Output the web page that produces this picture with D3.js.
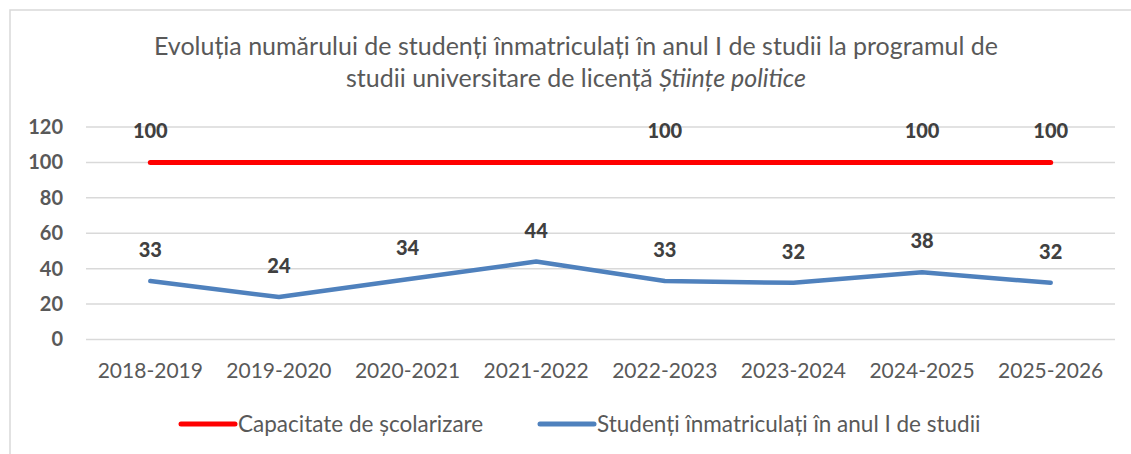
<!DOCTYPE html>
<html>
<head>
<meta charset="utf-8">
<script src="https://cdn.jsdelivr.net/npm/d3@7"></script>
<style>
  body { margin: 0; background: #fff; }
  svg text { font-family: Lato, "Open Sans", sans-serif; }
</style>
</head>
<body>
<svg id="chart" width="1131" height="454"></svg>
<script>
// date
const years = ["2018-2019", "2019-2020", "2020-2021", "2021-2022", "2022-2023", "2023-2024", "2024-2025", "2025-2026"];
const capacitate = [100, 100, 100, 100, 100, 100, 100, 100];
const capacitateEtichete = [true, false, false, false, true, false, true, true]; // doar unele etichete apar
const studenti = [33, 24, 34, 44, 33, 32, 38, 32];
const yTicks = [0, 20, 40, 60, 80, 100, 120];

const svg = d3.select("#chart");

// cadrul graficului
svg.append("rect")
  .attr("x", 10).attr("y", 10)
  .attr("width", 1200).attr("height", 500)
  .attr("fill", "none")
  .attr("stroke", "#d9d9d9")
  .attr("stroke-width", 1.5);

// titlu
const title = svg.append("text")
  .attr("text-anchor", "middle")
  .attr("fill", "#595959")
  .style("font-size", "25px");
title.append("tspan").attr("x", 576).attr("y", 55)
  .text("Evoluția numărului de studenți înmatriculați în anul I de studii la programul de");
const t2 = title.append("tspan").attr("x", 576).attr("y", 87);
t2.append("tspan").text("studii universitare de licență ");
t2.append("tspan").style("font-style", "italic").text("Științe politice");

const x = d3.scaleBand().domain(years).range([86, 1115]);
const y = d3.scaleLinear().domain([0, 120]).range([339.5, 127]);
const cx = d => x(d) + x.bandwidth() / 2;

// linii de grilă
svg.append("g")
  .selectAll("line")
  .data(yTicks)
  .join("line")
  .attr("x1", 86).attr("x2", 1115)
  .attr("y1", d => y(d)).attr("y2", d => y(d))
  .attr("stroke", "#d9d9d9")
  .attr("stroke-width", 1.5);

// axa Y
const yAxis = svg.append("g")
  .attr("transform", "translate(63,0)")
  .call(d3.axisLeft(y).tickValues(yTicks).tickSize(0).tickPadding(0));
yAxis.select(".domain").remove();
yAxis.selectAll("text")
  .attr("fill", "#595959")
  .style("font-size", "20px")
  .style("font-weight", "bold");

// axa X
const xAxis = svg.append("g")
  .attr("transform", "translate(0,339.5)")
  .call(d3.axisBottom(x).tickSize(0).tickPadding(24));
xAxis.select(".domain").remove();
xAxis.selectAll("text")
  .attr("fill", "#595959")
  .style("font-size", "21px");

// liniile seriilor
const line = d3.line()
  .x((d, i) => cx(years[i]))
  .y(d => y(d));

svg.append("path")
  .datum(studenti)
  .attr("d", line)
  .attr("fill", "none")
  .attr("stroke", "#4f81bd")
  .attr("stroke-width", 4.5)
  .attr("stroke-linejoin", "round")
  .attr("stroke-linecap", "round");

svg.append("path")
  .datum(capacitate)
  .attr("d", line)
  .attr("fill", "none")
  .attr("stroke", "#ff0000")
  .attr("stroke-width", 5)
  .attr("stroke-linecap", "round");

// etichete de date
svg.append("g")
  .selectAll("text")
  .data(studenti)
  .join("text")
  .attr("x", (d, i) => cx(years[i]))
  .attr("y", d => y(d) - 24)
  .attr("text-anchor", "middle")
  .attr("fill", "#404040")
  .style("font-size", "20px")
  .style("font-weight", "900")
  .text(d => d);

svg.append("g")
  .selectAll("text")
  .data(capacitate.map((v, i) => ({ v, i })).filter(d => capacitateEtichete[d.i]))
  .join("text")
  .attr("x", d => cx(years[d.i]))
  .attr("y", d => y(d.v) - 24)
  .attr("text-anchor", "middle")
  .attr("fill", "#404040")
  .style("font-size", "20px")
  .style("font-weight", "900")
  .text(d => d.v);

// legenda
const legend = [
  { name: "Capacitate de școlarizare", color: "#ff0000", x: 181 },
  { name: "Studenți înmatriculați în anul I de studii", color: "#4f81bd", x: 540 }
];
const lg = svg.append("g")
  .selectAll("g")
  .data(legend)
  .join("g")
  .attr("transform", d => `translate(${d.x},424)`);
lg.append("line")
  .attr("x1", 0).attr("x2", 54)
  .attr("stroke", d => d.color)
  .attr("stroke-width", 5)
  .attr("stroke-linecap", "round");
lg.append("text")
  .attr("x", 57)
  .attr("dy", "0.35em")
  .attr("fill", "#595959")
  .style("font-size", "22.5px")
  .text(d => d.name);
</script>
</body>
</html>
